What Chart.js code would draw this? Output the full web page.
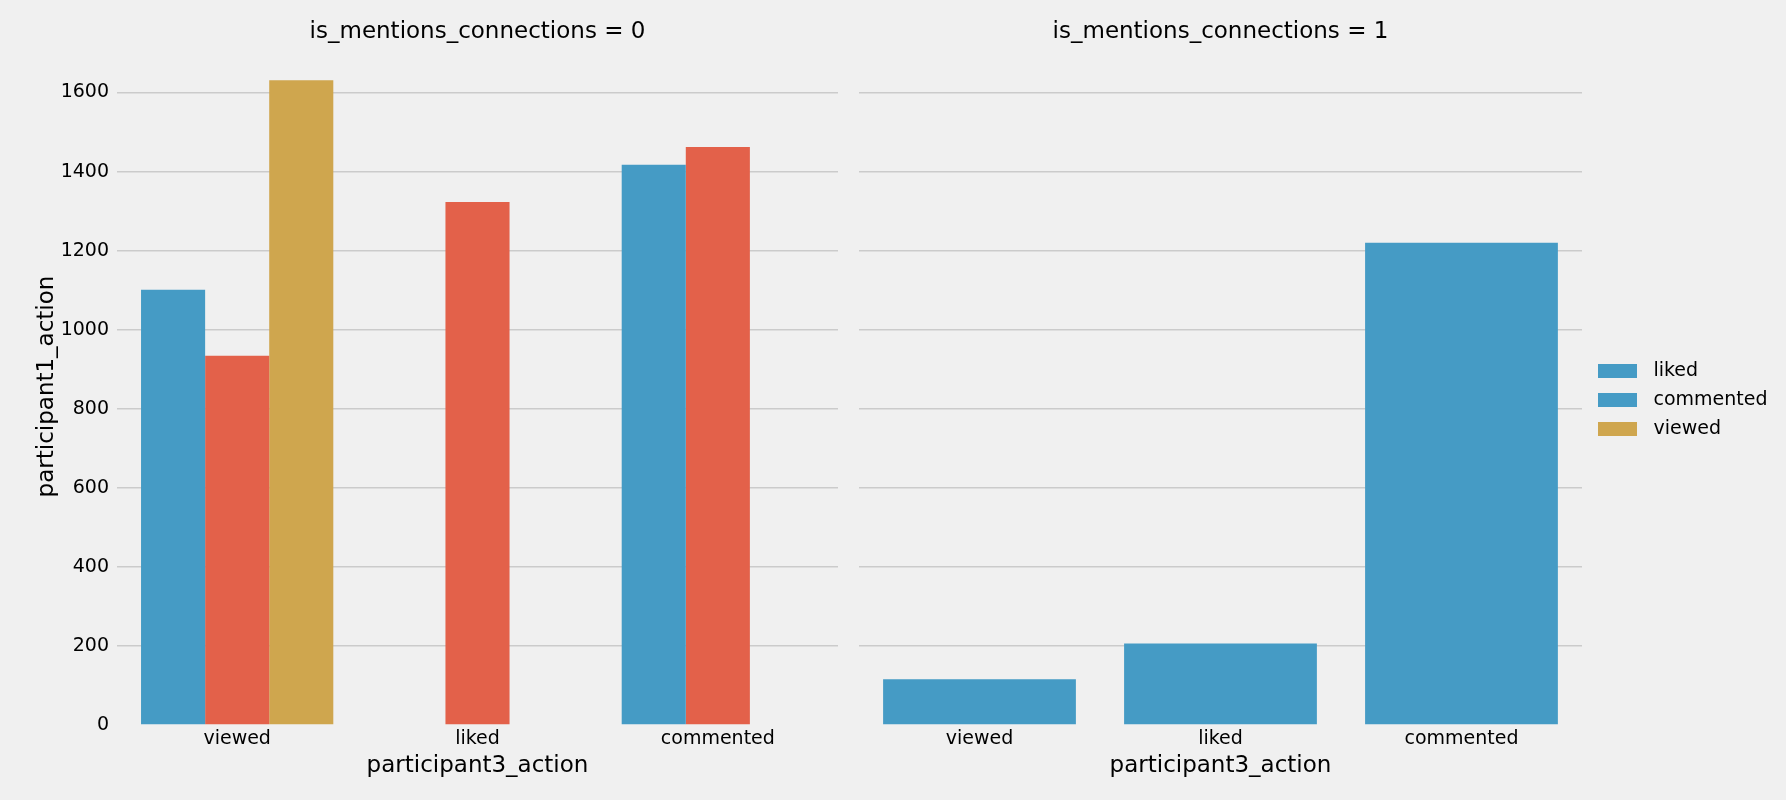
<!DOCTYPE html>
<html>
<head>
<meta charset="utf-8">
<script src="https://cdn.jsdelivr.net/npm/chart.js@4.4.1/dist/chart.umd.min.js"></script>
<style>
  html, body { margin: 0; padding: 0; background: #f0f0f0; width: 1786px; height: 800px; overflow: hidden; }
  #left { position: absolute; left: 0; top: 0; }
  #right { position: absolute; left: 850px; top: 0; }
</style>
</head>
<body>
<canvas id="left" width="850" height="800"></canvas>
<canvas id="right" width="936" height="800"></canvas>
<script>
// ---- data ----
const categories = ['viewed', 'liked', 'commented'];
const hueLabels = ['liked', 'commented', 'viewed'];
const leftLiked = [1101, null, 1417];
const leftCommented = [934, 1323, 1462];
const leftViewed = [1631, null, null];
const rightValues = [116, 206, 1220];
const legendColorKeys = ['blue', 'blue', 'gold'];
const panelTitles = ['is_mentions_connections = 0', 'is_mentions_connections = 1'];
const xTitle = 'participant3_action';
const yTitle = 'participant1_action';
const yMax = 1712.6;
const yStep = 200;

// ---- styles ----
const COLORS = { blue: '#459bc5', red: '#e3614a', gold: '#cfa64e' };
const FONT = 'DejaVu Sans';
const GRID = '#cbcbcb';

Chart.defaults.animation = false;
Chart.defaults.font.family = FONT;
Chart.defaults.color = '#000';

// legend swatch: 39x14 patch placed inside a wider transparent marker
function swatch(color) {
  const c = document.createElement('canvas');
  c.width = 52; c.height = 14;
  const g = c.getContext('2d');
  g.fillStyle = color;
  g.fillRect(6, 0, 39, 14);
  return c;
}

function yScale(showLabels) {
  return {
    min: 0, max: yMax,
    ticks: {
      display: showLabels, stepSize: yStep, includeBounds: false,
      font: { size: 19 }, color: '#000', padding: 8,
      callback: (v) => String(v)
    },
    grid: {
      drawTicks: false, lineWidth: 1.5,
      color: (c) => (c.tick && c.tick.value === 0) ? 'rgba(0,0,0,0)' : GRID
    },
    border: { display: false },
    title: {
      display: showLabels, text: yTitle, font: { size: 23 }, color: '#000',
      padding: { top: 33, bottom: 0 }
    },
    afterFit: (s) => { s.width = showLabels ? 117 : 9; }
  };
}

function xScale() {
  return {
    grid: { display: false, drawTicks: false },
    border: { display: false },
    ticks: { font: { size: 19 }, color: '#000', padding: 3 },
    title: {
      display: true, text: xTitle, font: { size: 23 }, color: '#000',
      padding: { top: 0, bottom: 20 }
    },
    afterFit: (s) => { s.height = 75; }
  };
}

function titleOpts(text) {
  return {
    display: true, text: text, fullSize: false,
    font: { size: 23, weight: 'normal' }, color: '#000',
    padding: { top: 18, bottom: 2.4 }
  };
}

new Chart(document.getElementById('left'), {
  type: 'bar',
  data: {
    labels: categories,
    datasets: [
      { label: hueLabels[0], data: leftLiked, backgroundColor: COLORS.blue },
      { label: hueLabels[1], data: leftCommented, backgroundColor: COLORS.red },
      { label: hueLabels[2], data: leftViewed, backgroundColor: COLORS.gold }
    ]
  },
  options: {
    responsive: false,
    layout: { padding: { left: 0, right: 12, top: 0, bottom: 0 } },
    datasets: { bar: { categoryPercentage: 0.8, barPercentage: 1.0, borderWidth: 0 } },
    plugins: {
      title: titleOpts(panelTitles[0]),
      legend: { display: false },
      tooltip: { enabled: false }
    },
    scales: { x: xScale(), y: yScale(true) }
  }
});

new Chart(document.getElementById('right'), {
  type: 'bar',
  data: {
    labels: categories,
    datasets: [
      { label: hueLabels[1], data: rightValues, backgroundColor: COLORS.blue }
    ]
  },
  options: {
    responsive: false,
    layout: { padding: { left: 0, right: 8.5, top: 0, bottom: 0 } },
    datasets: { bar: { categoryPercentage: 0.8, barPercentage: 1.0, borderWidth: 0 } },
    plugins: {
      title: titleOpts(panelTitles[1]),
      legend: {
        display: true, position: 'right', align: 'center',
        labels: {
          usePointStyle: true, pointStyleWidth: 52,
          boxWidth: 52, boxHeight: 14, padding: 10,
          font: { size: 19 }, color: '#000',
          generateLabels: () => hueLabels.map((t, i) => ({
            text: t,
            fillStyle: COLORS[legendColorKeys[i]],
            strokeStyle: COLORS[legendColorKeys[i]],
            lineWidth: 0,
            pointStyle: swatch(COLORS[legendColorKeys[i]]),
            hidden: false,
            datasetIndex: 0
          }))
        },
        onClick: () => {}
      },
      tooltip: { enabled: false }
    },
    scales: { x: xScale(), y: yScale(false) }
  }
});
</script>
</body>
</html>
